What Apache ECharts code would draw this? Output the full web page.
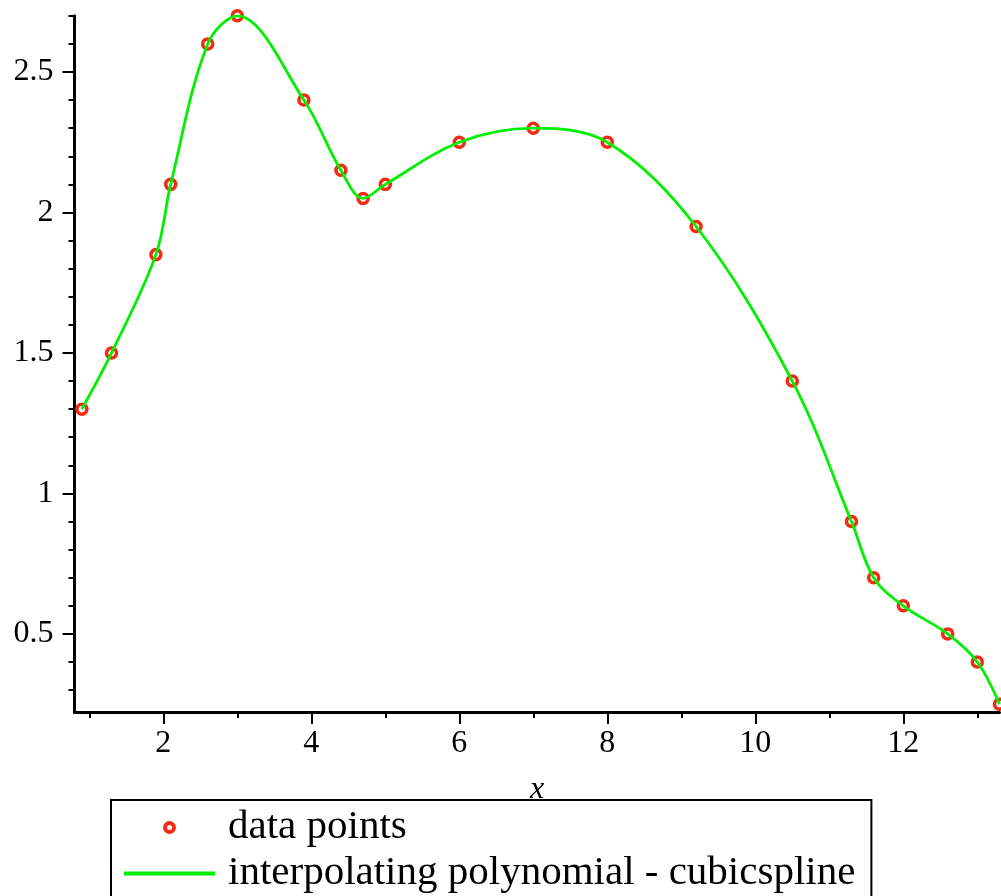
<!DOCTYPE html>
<html>
<head>
<meta charset="utf-8">
<title>cubic spline interpolation</title>
<script src="https://cdn.jsdelivr.net/npm/echarts@6/dist/echarts.min.js"></script>
<style>
  html, body { margin: 0; padding: 0; background: #fff; }
  #chart { width: 1001px; height: 896px; }
</style>
</head>
<body>
<div id="chart"></div>
<script>
// sample points
const xs = [0.9, 1.3, 1.9, 2.1, 2.6, 3.0, 3.9, 4.4, 4.7, 5.0, 6.0, 7.0, 8.0, 9.2, 10.5, 11.3, 11.6, 12.0, 12.6, 13.0, 13.3];
const ys = [1.3, 1.5, 1.85, 2.1, 2.6, 2.7, 2.4, 2.15, 2.05, 2.1, 2.25, 2.3, 2.25, 1.95, 1.4, 0.9, 0.7, 0.6, 0.5, 0.4, 0.25];

// axis ticks
const xMajorTicks = [2, 4, 6, 8, 10, 12];
const xMinorTicks = [1, 3, 5, 7, 9, 11, 13];
const yMajorTicks = [0.5, 1, 1.5, 2, 2.5];
const yMinorTicks = [0.3, 0.4, 0.6, 0.7, 0.8, 0.9, 1.1, 1.2, 1.3, 1.4, 1.6, 1.7, 1.8, 1.9, 2.1, 2.2, 2.3, 2.4, 2.6, 2.7];

// view range
const xRange = [0.8, 13.3];
const yRange = [0.222, 2.7];

const legendNames = ['data points', 'interpolating polynomial - cubicspline'];

const points = xs.map((x, i) => [x, ys[i]]);
const serif = '"Liberation Serif", "Times New Roman", serif';
const markerColor = '#f02c14';
const curveColor = '#00f000';

function majorAxis(range, ticks, labelMargin, extra) {
  return Object.assign({
    type: 'value',
    min: range[0],
    max: range[1],
    splitLine: { show: false },
    axisLine: { show: true, onZero: false, lineStyle: { color: '#000', width: 3 } },
    axisTick: { show: true, customValues: ticks, length: 12, lineStyle: { color: '#000', width: 2 } },
    axisLabel: { show: true, customValues: ticks, color: '#000', fontFamily: serif, fontSize: 32,
                 margin: labelMargin, formatter: v => String(v) }
  }, extra);
}
function minorAxis(range, ticks, extra) {
  return Object.assign({
    type: 'value',
    min: range[0],
    max: range[1],
    splitLine: { show: false },
    axisLine: { show: false },
    axisTick: { show: true, customValues: ticks, length: 6, lineStyle: { color: '#000', width: 2 } },
    axisLabel: { show: false }
  }, extra);
}

const chart = echarts.init(document.getElementById('chart'), null, { renderer: 'canvas' });
chart.setOption({
  animation: false,
  backgroundColor: '#fff',
  grid: { left: 74.5, right: 1.5, top: 15.8, bottom: 184, containLabel: false },
  xAxis: [
    majorAxis(xRange, xMajorTicks, 16, {
      position: 'bottom',
      name: 'x', nameLocation: 'middle', nameGap: 62,
      nameTextStyle: { color: '#000', fontFamily: serif, fontSize: 32, fontStyle: 'italic' }
    }),
    minorAxis(xRange, xMinorTicks, { position: 'bottom', offset: 0 })
  ],
  yAxis: [
    majorAxis(yRange, yMajorTicks, 21, { position: 'left' }),
    minorAxis(yRange, yMinorTicks, { position: 'left', offset: 0 })
  ],
  legend: {
    orient: 'vertical',
    left: 111,
    top: 800,
    height: 200,
    data: [
      { name: legendNames[0],
        itemStyle: { color: '#fff', borderColor: markerColor, borderWidth: 4 } },
      // the curve entry shows only its line
      { name: legendNames[1],
        itemStyle: { color: 'rgba(0,0,0,0)', borderWidth: 0 },
        lineStyle: { color: curveColor, width: 4 } }
    ],
    itemWidth: 91,
    itemHeight: 9,
    itemGap: 5,
    symbolKeepAspect: false,
    padding: [7, 16, 60, 11],
    borderColor: '#000',
    borderWidth: 2,
    backgroundColor: '#fff',
    selectedMode: false,
    textStyle: { color: '#000', fontFamily: serif, fontSize: 41, lineHeight: 40, padding: [0, 0, 0, 8] }
  },
  series: [
    {
      name: legendNames[0],
      type: 'scatter',
      data: points,
      symbol: 'circle',
      symbolSize: 10,
      itemStyle: { color: '#fff', borderColor: markerColor, borderWidth: 3.5, opacity: 1 },
      z: 2
    },
    {
      name: legendNames[1],
      type: 'line',
      data: points,
      smooth: 0.35,
      symbol: 'none',
      lineStyle: { color: curveColor, width: 2.8 },
      itemStyle: { color: curveColor },
      z: 3
    }
  ]
});
</script>
</body>
</html>
